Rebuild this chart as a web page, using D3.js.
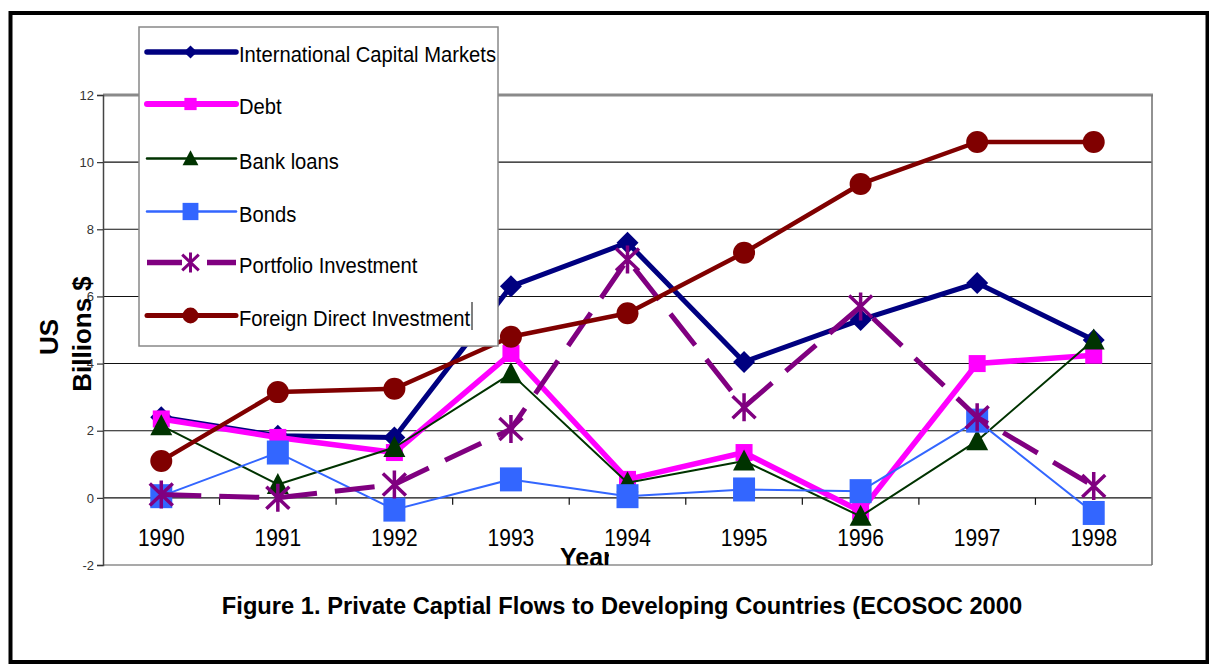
<!DOCTYPE html>
<html>
<head>
<meta charset="utf-8">
<script src="https://cdn.jsdelivr.net/npm/d3@7"></script>
<style>
  html, body { margin: 0; padding: 0; background: #fff; }
  svg { display: block; font-family: "Liberation Sans", Arial, sans-serif; }
</style>
</head>
<body>
<svg id="chart" width="1209" height="664"></svg>
<script>
// ---- Data ----
const years = ["1990", "1991", "1992", "1993", "1994", "1995", "1996", "1997", "1998"];
const yTicks = [-2, 0, 2, 4, 6, 8, 10, 12];
const seriesNames = ["International Capital Markets", "Debt", "Bank loans", "Bonds", "Portfolio Investment", "Foreign Direct Investment"];
const icmValues       = [2.4, 1.85, 1.8, 6.3, 7.6, 4.05, 5.3, 6.4, 4.7];
const debtValues      = [2.35, 1.8, 1.35, 4.3, 0.55, 1.35, -0.4, 4.0, 4.25];
const bankLoanValues  = [2.15, 0.4, 1.5, 3.7, 0.45, 1.1, -0.55, 1.7, 4.7];
const bondValues      = [0.05, 1.35, -0.35, 0.55, 0.05, 0.25, 0.2, 2.3, -0.45];
const portfolioValues = [0.1, 0.0, 0.4, 2.05, 7.1, 2.7, 5.7, 2.4, 0.35];
const fdiValues       = [1.1, 3.15, 3.25, 4.8, 5.5, 7.3, 9.35, 10.6, 10.6];
const titleText = "Figure 1. Private Captial Flows to Developing Countries (ECOSOC 2000";
const xTitle = "Year";
const yTitleLines = ["US", "Billions $"];

// ---- Styles ----
const styles = [
  { color: "#000080", width: 5, dash: null, marker: "diamond" },
  { color: "#FF00FF", width: 5.5, dash: null, marker: "square" },
  { color: "#003300", width: 2, dash: null, marker: "triangle" },
  { color: "#3366FF", width: 2, dash: null, marker: "bigsquare" },
  { color: "#800080", width: 5, dash: "40,18", marker: "asterisk" },
  { color: "#800000", width: 4.5, dash: null, marker: "circle" }
];
const allValues = [icmValues, debtValues, bankLoanValues, bondValues, portfolioValues, fdiValues];
const series = seriesNames.map((n, i) => ({ name: n, values: allValues[i], style: styles[i] }));

const svg = d3.select("#chart");
const L = 103, R = 1152, T = 95, B = 565;

const x = d3.scaleBand().domain(years).range([L, R]).padding(0);
const y = d3.scaleLinear().domain([-2, 12]).range([B, T]);
const cx = d => x(d) + x.bandwidth() / 2;

// outer frame
svg.append("rect").attr("x", 10.5).attr("y", 13).attr("width", 1197).attr("height", 649)
  .attr("fill", "none").attr("stroke", "#000").attr("stroke-width", 4);

// gridlines
svg.append("g").selectAll("line").data(yTicks.filter(v => v > -2 && v < 12)).join("line")
  .attr("x1", L).attr("x2", R).attr("y1", d => y(d)).attr("y2", d => y(d))
  .attr("stroke", "#111").attr("stroke-width", 1.1);
// bottom border
svg.append("line").attr("x1", L).attr("x2", R).attr("y1", y(-2)).attr("y2", y(-2))
  .attr("stroke", "#555").attr("stroke-width", 1.2);
// top border (gray thick)
svg.append("line").attr("x1", L).attr("x2", R + 1).attr("y1", y(12)).attr("y2", y(12))
  .attr("stroke", "#8a8a8a").attr("stroke-width", 3.2);
// right border
svg.append("line").attr("x1", R).attr("x2", R).attr("y1", y(12)).attr("y2", y(-2))
  .attr("stroke", "#777").attr("stroke-width", 1.6);

// y axis
const yAxis = svg.append("g").attr("transform", `translate(${L},0)`)
  .call(d3.axisLeft(y).tickValues(yTicks).tickSize(6).tickPadding(3).tickFormat(d => String(d)));
yAxis.select(".domain").attr("stroke", "#444").attr("stroke-width", 1.5);
yAxis.selectAll(".tick line").attr("stroke", "#333").attr("stroke-width", 1.2);
yAxis.selectAll(".tick text").attr("font-size", 13).attr("fill", "#333")
  .attr("font-family", "'Liberation Sans', Arial, sans-serif");

// x axis (boundary ticks on zero line)
const bounds = d3.range(1, years.length).map(i => L + i * x.step());
svg.append("g").selectAll("line").data(bounds).join("line")
  .attr("x1", d => d).attr("x2", d => d).attr("y1", y(0)).attr("y2", y(0) + 7)
  .attr("stroke", "#111").attr("stroke-width", 1.2);
svg.append("g").selectAll("text").data(years).join("text")
  .attr("transform", d => `translate(${cx(d)},546) scale(1,1.12)`)
  .attr("text-anchor", "middle").attr("font-size", 21).attr("fill", "#000")
  .text(d => d);

// marker paths
function markerPath(type, s) {
  switch (type) {
    case "diamond": return `M0,${-11*s}L${11*s},0L0,${11*s}L${-11*s},0Z`;
    case "square": return `M${-8.5*s},${-8.5*s}h${17*s}v${17*s}h${-17*s}Z`;
    case "bigsquare": return `M${-11*s},${-12*s}h${22*s}v${24*s}h${-22*s}Z`;
    case "triangle": return `M0,${-11.5*s}L${11*s},${9.5*s}L${-11*s},${9.5*s}Z`;
    case "circle": { const r = 11 * s; return `M${r},0A${r},${r} 0 1,1 ${-r},0A${r},${r} 0 1,1 ${r},0Z`; }
    case "asterisk": return `M0,${-14*s}V${14*s}M${-11.5*s},${-11*s}L${11.5*s},${11*s}M${11.5*s},${-11*s}L${-11.5*s},${11*s}`;
  }
}
function drawMarker(g, type, color, s) {
  const p = g.append("path").attr("d", markerPath(type, s));
  if (type === "asterisk") p.attr("fill", "none").attr("stroke", color).attr("stroke-width", 3.5 * Math.max(s, 0.85));
  else p.attr("fill", color).attr("stroke", "none");
}

const line = d3.line().x((d, i) => cx(years[i])).y(d => y(d));

series.forEach(s => {
  const g = svg.append("g");
  g.append("path").attr("d", line(s.values))
    .attr("fill", "none").attr("stroke", s.style.color).attr("stroke-width", s.style.width)
    .attr("stroke-linejoin", "round").attr("stroke-dasharray", s.style.dash);
  s.values.forEach((v, i) => {
    const mg = g.append("g").attr("transform", `translate(${cx(years[i])},${y(v)})`);
    drawMarker(mg, s.style.marker, s.style.color, 1);
  });
});

// Axis titles
svg.append("text").attr("transform", "translate(58,337) rotate(-90)")
  .attr("text-anchor", "middle").attr("font-size", 26).attr("font-weight", "bold").text(yTitleLines[0]);
svg.append("text").attr("transform", "translate(91,334) rotate(-90)")
  .attr("text-anchor", "middle").attr("font-size", 26).attr("font-weight", "bold").text(yTitleLines[1]);

svg.append("clipPath").attr("id", "yearclip").append("rect")
  .attr("x", 540).attr("y", 530).attr("width", 69).attr("height", 35);
svg.append("text").attr("x", 560).attr("y", 566).attr("clip-path", "url(#yearclip)")
  .attr("font-size", 25).attr("font-weight", "bold").text(xTitle);

// Title
svg.append("text").attr("x", 622).attr("y", 614).attr("text-anchor", "middle")
  .attr("font-size", 23.7).attr("font-weight", "bold").text(titleText);

// Legend
const leg = svg.append("g");
leg.append("rect").attr("x", 139).attr("y", 27).attr("width", 359).attr("height", 319)
  .attr("fill", "#fff").attr("stroke", "#888").attr("stroke-width", 1.5);
const rowY = [52, 104, 158.5, 211.5, 262.5, 315.5];
series.forEach((s, i) => {
  const g = leg.append("g").attr("transform", `translate(0,${rowY[i]})`);
  const lw = s.style.marker === "triangle" || s.style.marker === "bigsquare" ? 2.5 : s.style.width + 0.5;
  g.append("line").attr("x1", 147).attr("x2", 236).attr("y1", 0).attr("y2", 0)
    .attr("stroke", s.style.color).attr("stroke-width", lw)
    .attr("stroke-linecap", s.style.dash ? "butt" : "round")
    .attr("stroke-dasharray", s.style.dash ? "35,25" : null);
  const mg = g.append("g").attr("transform", "translate(190.5,0)");
  drawMarker(mg, s.style.marker, s.style.color, s.style.marker === "diamond" ? 0.6 : 0.72);
  g.append("text").attr("transform", "translate(239,10) scale(1,1.12)")
    .attr("font-size", 20.2).text(s.name);
});
// text cursor mark after last legend item
leg.append("line").attr("x1", 472).attr("x2", 472).attr("y1", 302).attr("y2", 330)
  .attr("stroke", "#000").attr("stroke-width", 1);
</script>
</body>
</html>
